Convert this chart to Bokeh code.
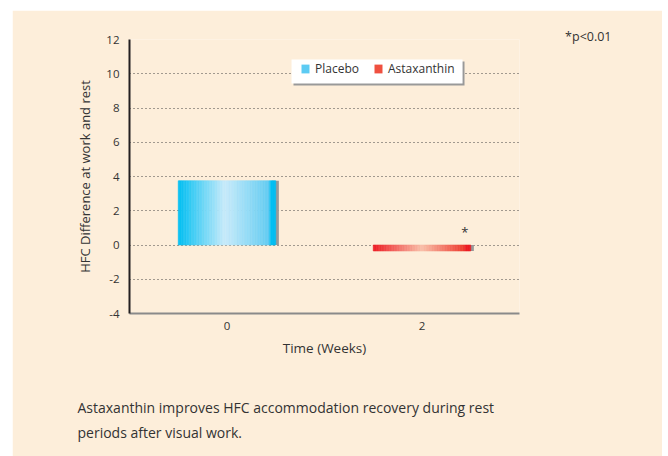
from bokeh.plotting import figure
from bokeh.models import (Range1d, FixedTicker, Legend, LegendItem, Title, BoxAnnotation,
                          ColumnDataSource, Spacer)
from bokeh.layouts import column, row
from bokeh.core.properties import value
from bokeh.embed import file_html
from bokeh.resources import INLINE

# ---- data ----
categories = ["0", "2"]                 # Time (weeks) tick labels
bar_series = ["Placebo", "Astaxanthin"]
bar_category = ["0", "2"]
bar_values = [3.75, -0.35]
sig_marks = ["", "*"]
y_ticks = [-4, -2, 0, 2, 4, 6, 8, 10, 12]
note_text = "*p<0.01"
caption_lines = ["Astaxanthin improves HFC accommodation recovery during rest",
                 "periods after visual work."]

# ---- styles ----
FONT = "Open Sans"
BG = "#FDEEDA"
TXT = "#333333"
BAR_W = 0.5
SHADOW_DX = 0.016
N_STRIPS = 60
GRADIENTS = {
    "Placebo": [(0.0, (0, 191, 243)), (0.48, (200, 235, 251)), (0.93, (100, 205, 243)),
                (0.95, (0, 191, 243)), (1.0, (0, 191, 243))],
    "Astaxanthin": [(0.0, (237, 28, 36)), (0.5, (249, 192, 170)), (0.93, (238, 60, 48)),
                    (0.95, (237, 28, 36)), (1.0, (237, 28, 36))],
}
SWATCH = {"Placebo": "#5CCBF3", "Astaxanthin": "#EF5040"}


def interp(stops, t):
    for (t0, c0), (t1, c1) in zip(stops, stops[1:]):
        if t0 <= t <= t1:
            f = 0 if t1 == t0 else (t - t0) / (t1 - t0)
            r, g, b = (int(round(a + (bb - a) * f)) for a, bb in zip(c0, c1))
            return "#%02x%02x%02x" % (r, g, b)
    r, g, b = stops[-1][1]
    return "#%02x%02x%02x" % (r, g, b)


p = figure(width=650, height=446, x_range=Range1d(0, len(categories)), y_range=Range1d(-4, 12),
           output_backend="svg", toolbar_location=None,
           min_border_left=117, min_border_right=143, min_border_top=29, min_border_bottom=143)
p.background_fill_color = BG
p.border_fill_color = BG
p.outline_line_color = None

# axes
p.xaxis.ticker = FixedTicker(ticks=[i + 0.5 for i in range(len(categories))])
p.xaxis.major_label_overrides = {i + 0.5: c for i, c in enumerate(categories)}
p.yaxis.ticker = FixedTicker(ticks=y_ticks)
p.yaxis.major_label_overrides = {t: str(t) for t in y_ticks}
for ax in (p.xaxis, p.yaxis):
    ax.major_tick_line_color = None
    ax.minor_tick_line_color = None
    ax.major_label_text_font = FONT
    ax.major_label_text_font_size = "11.5px"
    ax.major_label_text_color = TXT
    ax.axis_label_text_font = FONT
    ax.axis_label_text_font_style = "normal"
    ax.axis_label_text_color = TXT
p.yaxis.axis_label_text_font_size = "13px"
p.xaxis.axis_label_text_font_size = "13.5px"
p.yaxis.axis_line_color = "#231F20"
p.yaxis.axis_line_width = 2
p.xaxis.axis_line_color = "#8A8A8A"
p.xaxis.axis_line_width = 2
p.yaxis.major_label_standoff = 4
p.xaxis.major_label_standoff = 2
p.yaxis.axis_label = "HFC Difference at work and rest"
p.xaxis.axis_label = "Time (Weeks)"
p.yaxis.axis_label_standoff = 9
p.xaxis.axis_label_standoff = 6

p.xgrid.grid_line_color = None
p.ygrid.ticker = FixedTicker(ticks=[t for t in y_ticks if t > y_ticks[0]])
p.ygrid.grid_line_color = "#444444"
p.ygrid.grid_line_dash = "1 3"
p.ygrid.grid_line_width = 1

# bars with gradient strips
for s, c, v in zip(bar_series, bar_category, bar_values):
    xc = categories.index(c) + 0.5
    left = xc - BAR_W / 2
    right = xc + BAR_W / 2
    top, bottom = max(v, 0), min(v, 0)
    p.quad(left=[right - 0.02], right=[right + SHADOW_DX], top=[top], bottom=[bottom],
           fill_color="#999999", line_color=None)
    lefts, rights, cols = [], [], []
    step = BAR_W / N_STRIPS
    for i in range(N_STRIPS):
        lefts.append(left + i * step)
        rights.append(left + (i + 1) * step)
        cols.append(interp(GRADIENTS[s], (i + 0.5) / N_STRIPS))
    src = ColumnDataSource(dict(left=lefts, right=rights, top=[top] * N_STRIPS,
                                bottom=[bottom] * N_STRIPS, color=cols))
    p.quad(left="left", right="right", top="top", bottom="bottom", source=src,
           fill_color="color", line_color="color", line_width=0.6)

# significance marks
sx, sy, st = [], [], []
for c, v, m in zip(bar_category, bar_values, sig_marks):
    if m:
        sx.append(categories.index(c) + 0.5 + BAR_W * 0.44)
        sy.append(max(v, 0) + 0.75)
        st.append(m)
p.text(x=sx, y=sy, text=st, text_font=value(FONT), text_font_size="13px",
       text_color="#333333", text_align="center", text_baseline="middle")

# legend box + shadow (drawn as box annotations)
p.add_layout(BoxAnnotation(left=0.841, right=1.718, top=10.715, bottom=9.314,
                           fill_color="#999999", fill_alpha=1, line_color=None))
p.add_layout(BoxAnnotation(left=0.831, right=1.708, top=10.832, bottom=9.431,
                           fill_color="white", fill_alpha=1, line_color=None))

# legend (swatch renderers: zero-area quads)
items = []
for s in bar_series:
    r = p.quad(left=[0], right=[0], top=[0], bottom=[0], fill_color=SWATCH[s],
               line_color=None)
    items.append(LegendItem(label=s, renderers=[r]))
legend = Legend(items=items, orientation="horizontal", location=(171, 236),
                background_fill_alpha=0, border_line_color=None,
                glyph_width=10, glyph_height=11,
                label_standoff=5, spacing=14, padding=0, margin=0,
                label_text_font=FONT, label_text_font_size="12px",
                label_text_color=TXT, label_height=12)
p.add_layout(legend, "center")

# note above the frame, right side
p.add_layout(Title(text=note_text, align="right", offset=-92, standoff=-10,
                   text_font=FONT, text_font_size="12.5px", text_font_style="normal",
                   text_color=TXT), "above")

# caption below the axis (a blank title acts as vertical spacing)
p.add_layout(Title(text=" ", align="left", standoff=14, text_font=FONT,
                   text_font_size="13.5px", text_font_style="normal"), "below")
for i, line in enumerate(caption_lines):
    p.add_layout(Title(text=line, align="left", offset=-52, standoff=4,
                       text_font=FONT, text_font_size="14px", text_font_style="normal",
                       text_color=TXT), "below")

layout = column(Spacer(height=10), row(Spacer(width=12), p), spacing=0)
open("out.html", "w").write(file_html(layout, INLINE))
